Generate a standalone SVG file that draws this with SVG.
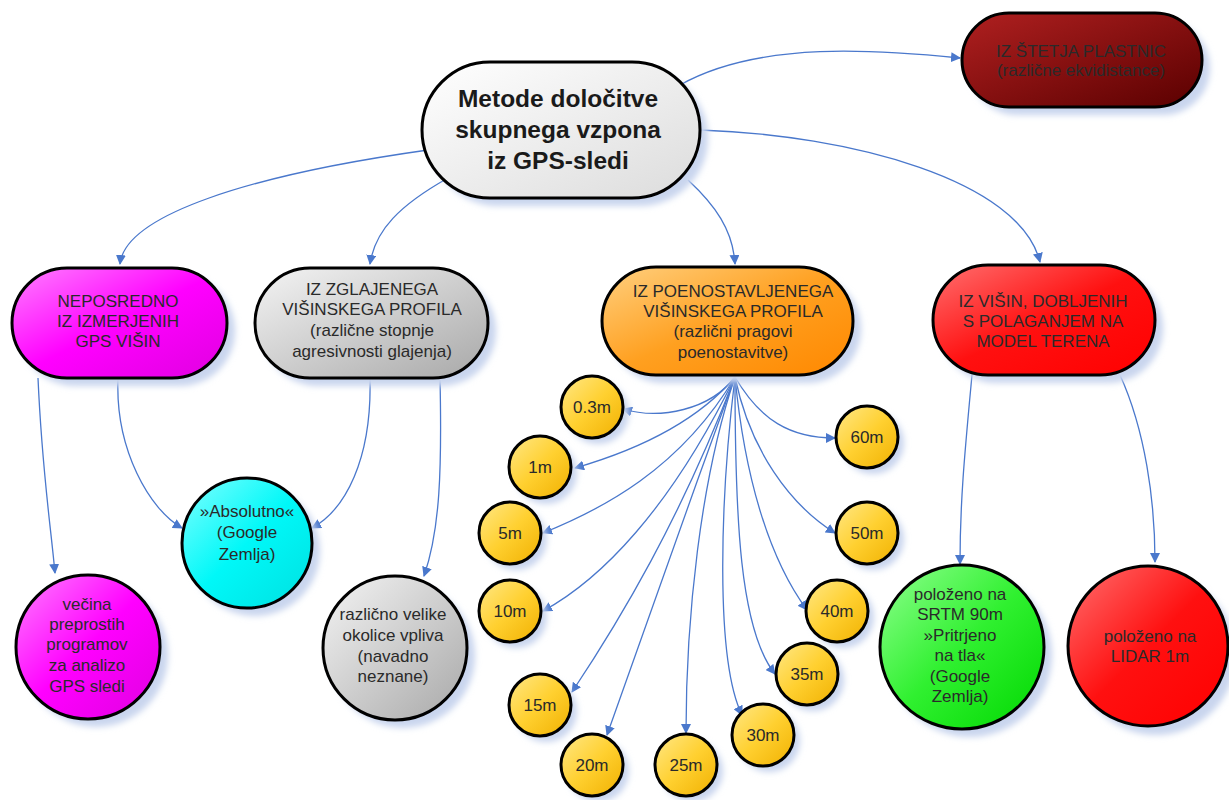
<svg xmlns="http://www.w3.org/2000/svg" width="1229" height="800" viewBox="0 0 1229 800">
<defs>
  <filter id="sh" x="-20%" y="-20%" width="150%" height="150%">
    <feGaussianBlur stdDeviation="3"/>
  </filter>
  <linearGradient id="gWhite" x1="0" y1="0" x2="1" y2="1"><stop offset="0" stop-color="#ffffff"/><stop offset="1" stop-color="#dcdcdc"/></linearGradient>
  <linearGradient id="gDark" x1="0" y1="0" x2="1" y2="1"><stop offset="0" stop-color="#b02020"/><stop offset="1" stop-color="#5a0000"/></linearGradient>
  <linearGradient id="gMag" x1="0" y1="0" x2="1" y2="1"><stop offset="0" stop-color="#ff80ff"/><stop offset="0.5" stop-color="#ff00ff"/><stop offset="1" stop-color="#e000e0"/></linearGradient>
  <linearGradient id="gGray" x1="0" y1="0" x2="1" y2="1"><stop offset="0" stop-color="#f4f4f4"/><stop offset="1" stop-color="#a8a8a8"/></linearGradient>
  <linearGradient id="gOrange" x1="0" y1="0" x2="1" y2="1"><stop offset="0" stop-color="#ffd080"/><stop offset="0.5" stop-color="#ffa020"/><stop offset="1" stop-color="#ff8800"/></linearGradient>
  <linearGradient id="gRed" x1="0" y1="0" x2="1" y2="1"><stop offset="0" stop-color="#ff7070"/><stop offset="0.5" stop-color="#ff1010"/><stop offset="1" stop-color="#ff0000"/></linearGradient>
  <linearGradient id="gCyan" x1="0" y1="0" x2="1" y2="1"><stop offset="0" stop-color="#80ffff"/><stop offset="0.5" stop-color="#00f8f8"/><stop offset="1" stop-color="#00e0e0"/></linearGradient>
  <linearGradient id="gGreen" x1="0" y1="0" x2="1" y2="1"><stop offset="0" stop-color="#90ff90"/><stop offset="0.5" stop-color="#30f030"/><stop offset="1" stop-color="#00d800"/></linearGradient>
  <linearGradient id="gYellow" x1="0" y1="0" x2="1" y2="1"><stop offset="0" stop-color="#ffe888"/><stop offset="0.5" stop-color="#ffd030"/><stop offset="1" stop-color="#f0b000"/></linearGradient>
  <marker id="arr" viewBox="0 0 10 10" refX="9" refY="5" markerWidth="10" markerHeight="10" markerUnits="userSpaceOnUse" orient="auto">
    <path d="M0,0 L10,5 L0,10 z" fill="#4a78cc"/>
  </marker>
</defs>
<style>
  .n { stroke: #000; stroke-width: 3; }
  .s { fill: #c9d5ee; filter: url(#sh); }
  .t { font-family: "Liberation Sans", Arial, sans-serif; font-size: 17px; fill: #2a2a2a; text-anchor: middle; }
  .tb { font-family: "Liberation Sans", Arial, sans-serif; font-size: 24.5px; font-weight: bold; fill: #1a1a1a; text-anchor: middle; }
  .c { fill: none; stroke: #4a78cc; stroke-width: 1.3; marker-end: url(#arr); }
</style>
<rect width="1229" height="800" fill="#ffffff"/>

<g id="connectors">
  <path class="c" d="M428,150 C250,175 125,215 120,264"/>
  <path class="c" d="M448,178 C400,205 375,230 370,264"/>
  <path class="c" d="M688,180 C715,205 733,230 735,264"/>
  <path class="c" d="M700,130 C850,135 1020,180 1040,262"/>
  <path class="c" d="M680,85 C760,40 880,50 960,58"/>
  <path class="c" d="M38,378 C42,470 50,520 55,573"/>
  <path class="c" d="M118,378 C115,450 150,510 182,528"/>
  <path class="c" d="M370,378 C372,460 345,510 312,528"/>
  <path class="c" d="M440,378 C442,470 440,530 424,576"/>
  <path class="c" d="M972,375 C965,450 960,500 960,564"/>
  <path class="c" d="M1120,375 C1145,430 1155,500 1155,562"/>
  <path class="c" d="M735,377 C710,410 660,420 623,409"/>
  <path class="c" d="M735,377 C690,430 620,455 575,468"/>
  <path class="c" d="M735,377 C680,470 600,510 543,533"/>
  <path class="c" d="M735,377 C670,510 600,580 543,611"/>
  <path class="c" d="M735,377 C680,520 620,620 572,692"/>
  <path class="c" d="M735,377 C690,500 640,640 607,735"/>
  <path class="c" d="M735,377 C700,480 686,620 686,733"/>
  <path class="c" d="M735,377 C720,500 715,660 742,715"/>
  <path class="c" d="M735,377 C735,520 740,630 775,674"/>
  <path class="c" d="M735,377 C745,480 770,560 807,610"/>
  <path class="c" d="M735,377 C750,450 790,505 835,533"/>
  <path class="c" d="M735,377 C760,420 790,438 835,438"/>
</g>

<g id="central">
  <rect class="s" x="430" y="70" width="278" height="136" rx="68"/>
  <rect class="n" x="422" y="62" width="278" height="136" rx="68" fill="url(#gWhite)"/>
  <text class="tb" x="558" y="107">Metode določitve</text>
  <text class="tb" x="558" y="138">skupnega vzpona</text>
  <text class="tb" x="558" y="169">iz GPS-sledi</text>
</g>

<g id="stetja">
  <rect class="s" x="970" y="21" width="240" height="94" rx="47"/>
  <rect class="n" x="962" y="13" width="240" height="94" rx="47" fill="url(#gDark)"/>
  <text class="t" x="1081" y="57">IZ ŠTETJA PLASTNIC</text>
  <text class="t" x="1081" y="76">(različne ekvidistance)</text>
</g>

<g id="neposredno">
  <rect class="s" x="20" y="276" width="215" height="110" rx="55"/>
  <rect class="n" x="12" y="268" width="215" height="110" rx="55" fill="url(#gMag)"/>
  <text class="t" x="118" y="307">NEPOSREDNO</text>
  <text class="t" x="118" y="327">IZ IZMERJENIH</text>
  <text class="t" x="118" y="347">GPS VIŠIN</text>
</g>

<g id="zglajenega">
  <rect class="s" x="263" y="276" width="233" height="110" rx="55"/>
  <rect class="n" x="255" y="268" width="233" height="110" rx="55" fill="url(#gGray)"/>
  <text class="t" x="372" y="295">IZ ZGLAJENEGA</text>
  <text class="t" x="372" y="315">VIŠINSKEGA PROFILA</text>
  <text class="t" x="372" y="336">(različne stopnje</text>
  <text class="t" x="372" y="357">agresivnosti glajenja)</text>
</g>

<g id="poenostavljenega">
  <rect class="s" x="610" y="275" width="251" height="108" rx="54"/>
  <rect class="n" x="602" y="267" width="251" height="108" rx="54" fill="url(#gOrange)"/>
  <text class="t" x="733" y="297">IZ POENOSTAVLJENEGA</text>
  <text class="t" x="733" y="317">VIŠINSKEGA PROFILA</text>
  <text class="t" x="733" y="337">(različni pragovi</text>
  <text class="t" x="733" y="358">poenostavitve)</text>
</g>

<g id="visin">
  <rect class="s" x="941" y="273" width="222" height="110" rx="55"/>
  <rect class="n" x="933" y="265" width="222" height="110" rx="55" fill="url(#gRed)"/>
  <text class="t" x="1043" y="307">IZ VIŠIN, DOBLJENIH</text>
  <text class="t" x="1043" y="327">S POLAGANJEM NA</text>
  <text class="t" x="1043" y="347">MODEL TERENA</text>
</g>

<g id="absolutno">
  <circle class="s" cx="255" cy="551" r="65"/>
  <circle class="n" cx="247" cy="543" r="65" fill="url(#gCyan)"/>
  <text class="t" x="247" y="517">»Absolutno«</text>
  <text class="t" x="247" y="538">(Google</text>
  <text class="t" x="247" y="560">Zemlja)</text>
</g>

<g id="vecina">
  <circle class="s" cx="96" cy="655" r="72"/>
  <circle class="n" cx="88" cy="647" r="72" fill="url(#gMag)"/>
  <text class="t" x="87" y="610">večina</text>
  <text class="t" x="87" y="630">preprostih</text>
  <text class="t" x="87" y="650">programov</text>
  <text class="t" x="87" y="671">za analizo</text>
  <text class="t" x="87" y="692">GPS sledi</text>
</g>

<g id="razlicno">
  <circle class="s" cx="403" cy="656" r="72"/>
  <circle class="n" cx="395" cy="648" r="72" fill="url(#gGray)"/>
  <text class="t" x="393" y="620">različno velike</text>
  <text class="t" x="393" y="641">okolice vpliva</text>
  <text class="t" x="393" y="662">(navadno</text>
  <text class="t" x="393" y="682">neznane)</text>
</g>

<g id="srtm">
  <circle class="s" cx="970" cy="655" r="82"/>
  <circle class="n" cx="962" cy="647" r="82" fill="url(#gGreen)"/>
  <text class="t" x="960" y="600">položeno na</text>
  <text class="t" x="960" y="620">SRTM 90m</text>
  <text class="t" x="960" y="641">»Pritrjeno</text>
  <text class="t" x="960" y="661">na tla«</text>
  <text class="t" x="960" y="682">(Google</text>
  <text class="t" x="960" y="702">Zemlja)</text>
</g>

<g id="lidar">
  <circle class="s" cx="1156" cy="655" r="80"/>
  <circle class="n" cx="1148" cy="646" r="80" fill="url(#gRed)"/>
  <text class="t" x="1150" y="642">položeno na</text>
  <text class="t" x="1150" y="662">LIDAR 1m</text>
</g>

<g id="t03"><circle class="s" cx="598" cy="413" r="31"/><circle class="n" cx="592" cy="407" r="31" fill="url(#gYellow)"/><text class="t" x="592" y="413">0.3m</text></g>
<g id="t1"><circle class="s" cx="546" cy="473" r="31"/><circle class="n" cx="540" cy="467" r="31" fill="url(#gYellow)"/><text class="t" x="540" y="473">1m</text></g>
<g id="t5"><circle class="s" cx="516" cy="539" r="31"/><circle class="n" cx="510" cy="533" r="31" fill="url(#gYellow)"/><text class="t" x="510" y="539">5m</text></g>
<g id="t10"><circle class="s" cx="516" cy="617" r="31"/><circle class="n" cx="510" cy="611" r="31" fill="url(#gYellow)"/><text class="t" x="510" y="617">10m</text></g>
<g id="t15"><circle class="s" cx="546" cy="711" r="31"/><circle class="n" cx="540" cy="705" r="31" fill="url(#gYellow)"/><text class="t" x="540" y="711">15m</text></g>
<g id="t20"><circle class="s" cx="598" cy="771" r="31"/><circle class="n" cx="592" cy="765" r="31" fill="url(#gYellow)"/><text class="t" x="592" y="771">20m</text></g>
<g id="t25"><circle class="s" cx="692" cy="771" r="31"/><circle class="n" cx="686" cy="765" r="31" fill="url(#gYellow)"/><text class="t" x="686" y="771">25m</text></g>
<g id="t30"><circle class="s" cx="769" cy="741" r="31"/><circle class="n" cx="763" cy="735" r="31" fill="url(#gYellow)"/><text class="t" x="763" y="741">30m</text></g>
<g id="t35"><circle class="s" cx="813" cy="680" r="31"/><circle class="n" cx="807" cy="674" r="31" fill="url(#gYellow)"/><text class="t" x="807" y="680">35m</text></g>
<g id="t40"><circle class="s" cx="843" cy="617" r="31"/><circle class="n" cx="837" cy="611" r="31" fill="url(#gYellow)"/><text class="t" x="837" y="617">40m</text></g>
<g id="t50"><circle class="s" cx="873" cy="539" r="31"/><circle class="n" cx="867" cy="533" r="31" fill="url(#gYellow)"/><text class="t" x="867" y="539">50m</text></g>
<g id="t60"><circle class="s" cx="873" cy="443" r="31"/><circle class="n" cx="867" cy="437" r="31" fill="url(#gYellow)"/><text class="t" x="867" y="443">60m</text></g>
</svg>
